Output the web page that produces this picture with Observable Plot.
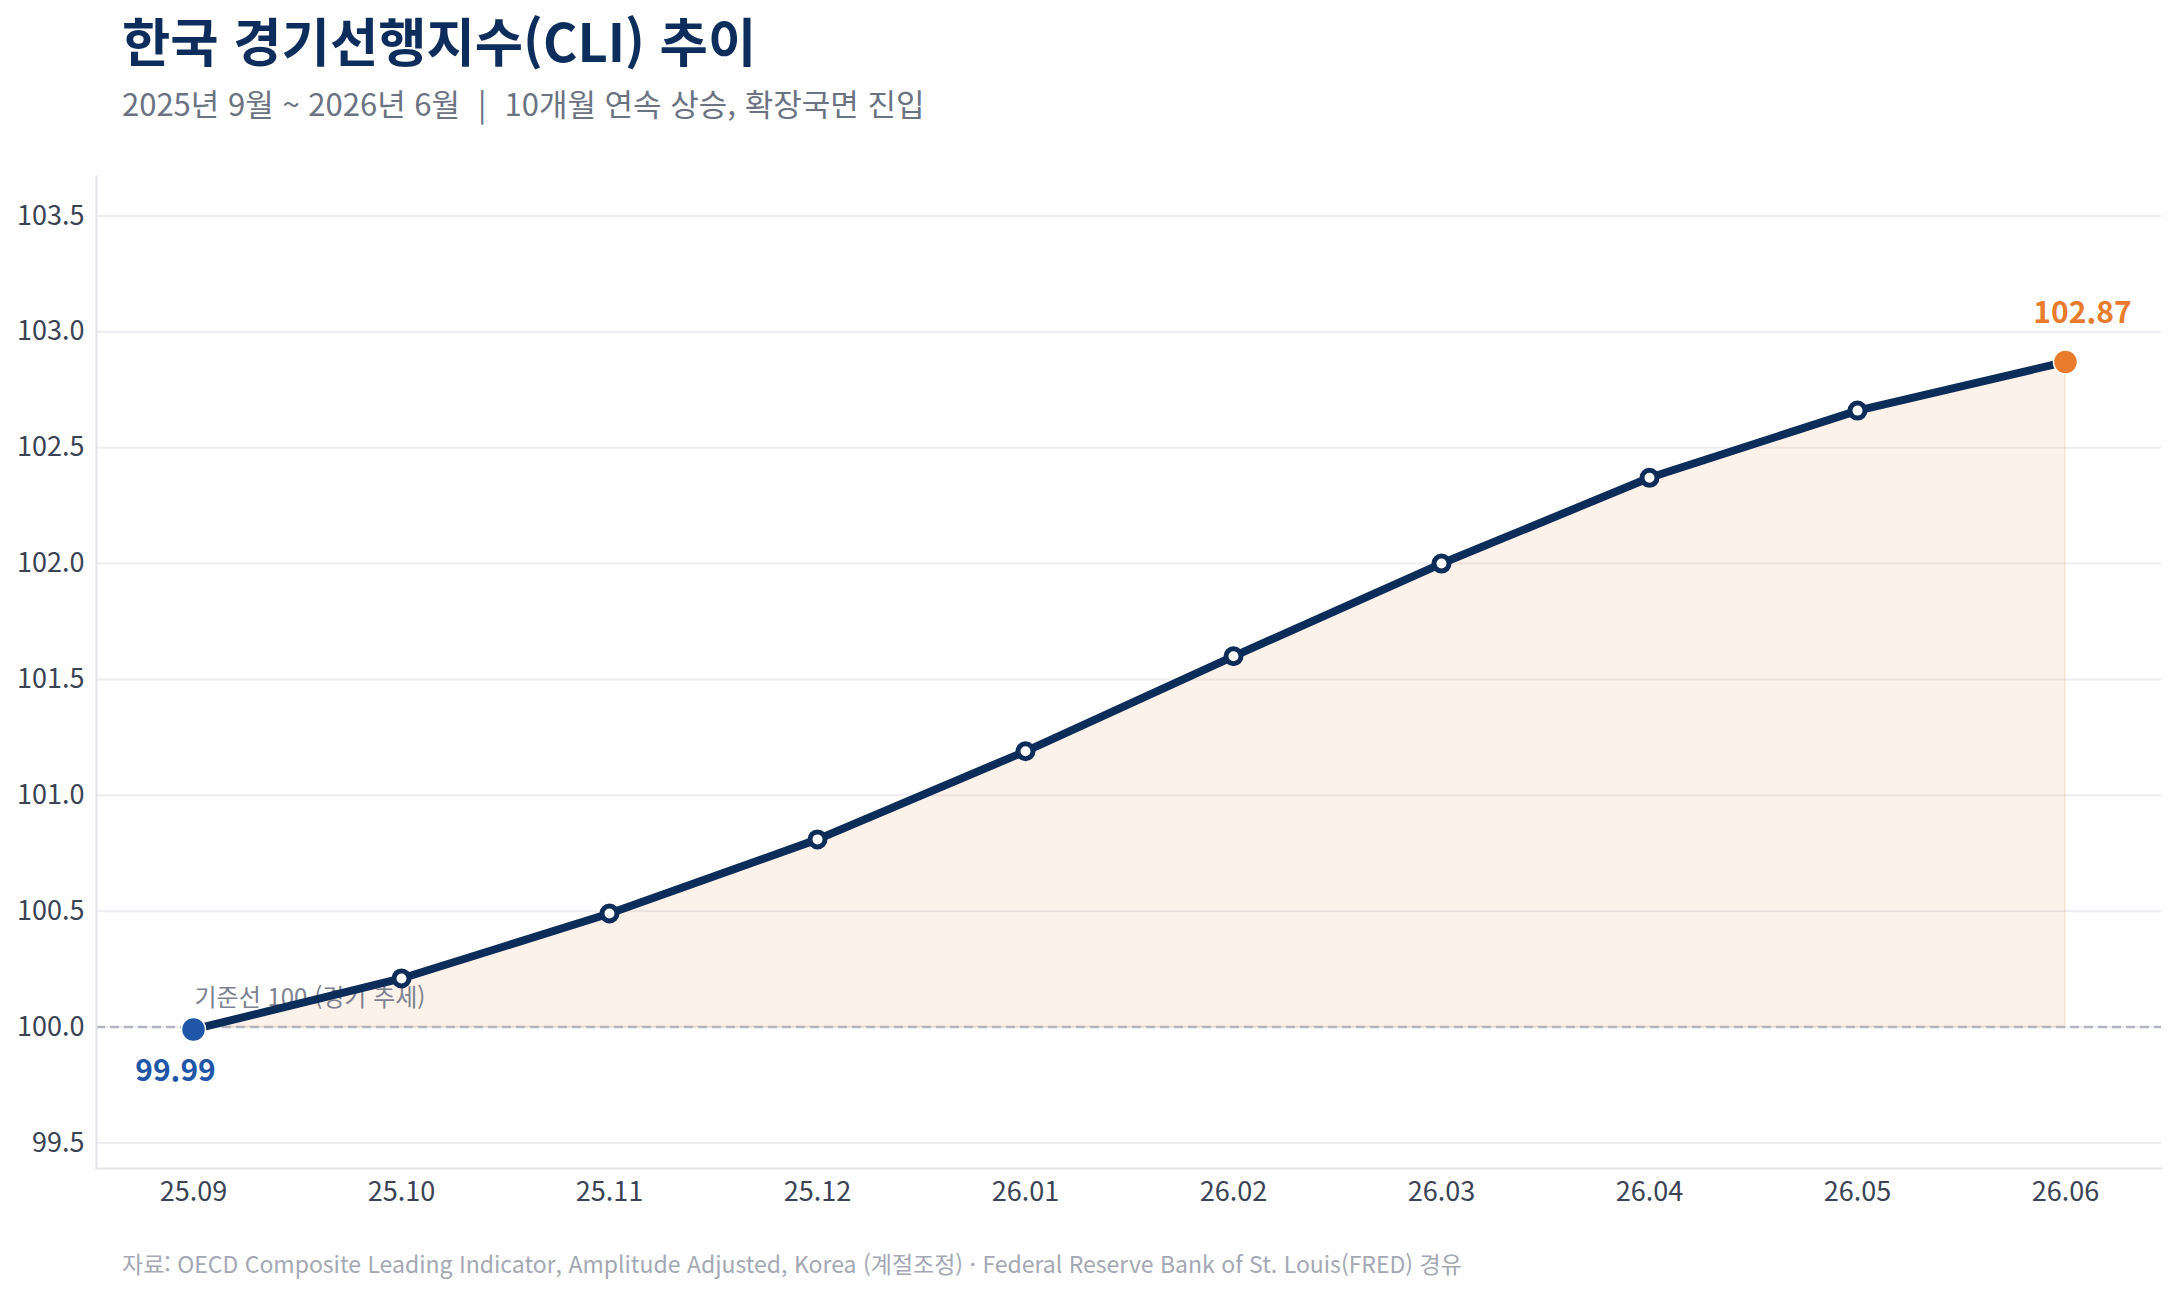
<!DOCTYPE html>
<html lang="ko">
<head>
<meta charset="utf-8">
<script src="https://cdn.jsdelivr.net/npm/d3@7"></script>
<script src="https://cdn.jsdelivr.net/npm/@observablehq/plot@0.6"></script>
<style>
  html, body { margin: 0; padding: 0; background: #ffffff; overflow: hidden; }
  body { width: 2179px; height: 1298px; position: relative; font-family: "Noto Sans CJK KR", "Noto Sans", sans-serif; }
  .title { position: absolute; left: 122px; top: 13px; font-size: 52.5px; line-height: 52px; font-weight: 700; color: #0d2e5c; white-space: nowrap; }
  .subtitle { position: absolute; left: 122px; top: 87px; font-size: 31px; line-height: 31px; color: #6b7383; white-space: nowrap; }
  .subtitle .sep { margin: 0 18px; }
  .source { position: absolute; left: 122px; top: 1252px; font-size: 23px; line-height: 23px; color: #a3a8b4; white-space: nowrap; }
  #chart { position: absolute; left: 0; top: 150px; }
</style>
</head>
<body>
<div class="title">한국 경기선행지수(CLI) 추이</div>
<div class="subtitle">2025년 9월 ~ 2026년 6월<span class="sep">|</span>10개월 연속 상승, 확장국면 진입</div>
<div id="chart"></div>
<div class="source">자료: OECD Composite Leading Indicator, Amplitude Adjusted, Korea (계절조정) · Federal Reserve Bank of St. Louis(FRED) 경유</div>
<script>
const months = ["25.09","25.10","25.11","25.12","26.01","26.02","26.03","26.04","26.05","26.06"];
const cli = [99.99, 100.21, 100.49, 100.81, 101.19, 101.60, 102.00, 102.37, 102.66, 102.87];
const yTicks = [99.5, 100.0, 100.5, 101.0, 101.5, 102.0, 102.5, 103.0, 103.5];
const baseline = 100;
const baselineLabel = "기준선 100 (경기 추세)";

const data = months.map((m, i) => ({month: m, value: cli[i]}));
const first = data[0];
const last = data[data.length - 1];

const navy = "#0c2d5a";
const orange = "#e87b2c";
const blue = "#1f56a8";
const font = "Noto Sans CJK KR";

const chart = Plot.plot({
  width: 2179,
  height: 1070,
  marginTop: 26,
  marginBottom: 52,
  marginLeft: 96,
  marginRight: 18,
  style: {fontFamily: font, background: "transparent"},
  x: {type: "point", domain: months, padding: 0.45, label: null},
  y: {domain: [99.39, 103.67], label: null},
  marks: [
    Plot.gridY(yTicks, {stroke: "#ededf2", strokeOpacity: 1, strokeWidth: 2}),
    Plot.areaY(data, {x: "month", y1: baseline, y2: "value", fill: orange, fillOpacity: 0.1, stroke: orange, strokeOpacity: 0.12, strokeWidth: 2}),
    Plot.ruleY([baseline], {stroke: "#b3b6c1", strokeWidth: 2.5, strokeDasharray: "9,5"}),
    Plot.frame({anchor: "left", stroke: "#e3e4ea", strokeWidth: 2}),
    Plot.frame({anchor: "bottom", stroke: "#e3e4ea", strokeWidth: 2}),
    Plot.axisY(yTicks, {tickSize: 0, tickPadding: 12, tickFormat: d3.format(".1f"), fontSize: 27, fill: "#3a4355", label: null}),
    Plot.axisX(months, {tickSize: 0, tickPadding: 13, fontSize: 27, fill: "#3a4355", label: null}),
    Plot.text([first], {x: "month", y: () => baseline, text: () => baselineLabel, textAnchor: "start", dx: 1, dy: -29, fontSize: 24, fill: "#7c8190"}),
    Plot.line(data, {x: "month", y: "value", stroke: navy, strokeWidth: 8, strokeLinejoin: "round", strokeLinecap: "round"}),
    Plot.dot(data.slice(1, -1), {x: "month", y: "value", r: 7.5, fill: "white", stroke: navy, strokeWidth: 5}),
    Plot.dot([first], {x: "month", y: "value", r: 12, fill: blue, stroke: "white", strokeWidth: 1.5}),
    Plot.dot([last], {x: "month", y: "value", r: 12, fill: orange, stroke: "white", strokeWidth: 1.5}),
    Plot.text([first], {x: "month", y: "value", text: d => d.value.toFixed(2), dx: -18, dy: 42, fontSize: 30, fontWeight: 700, fill: blue}),
    Plot.text([last], {x: "month", y: "value", text: d => d.value.toFixed(2), dx: 17, dy: -49, fontSize: 30, fontWeight: 700, fill: orange})
  ]
});
document.getElementById("chart").appendChild(chart);
</script>
</body>
</html>
